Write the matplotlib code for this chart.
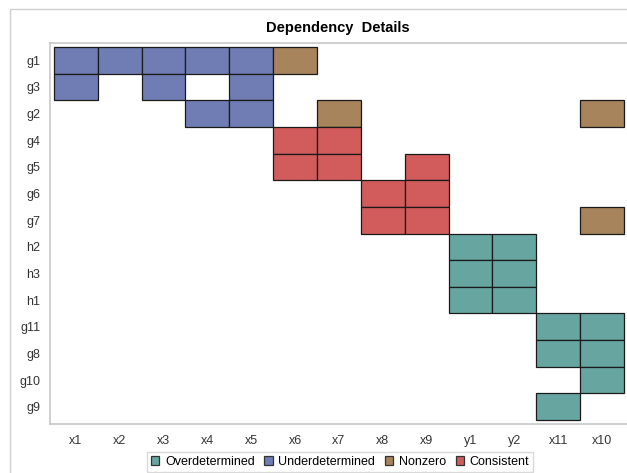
import matplotlib.pyplot as plt
from matplotlib.patches import Rectangle, Patch

plt.rcParams['font.family'] = ['Liberation Sans', 'DejaVu Sans']

rows = ['g1', 'g3', 'g2', 'g4', 'g5', 'g6', 'g7', 'h2', 'h3', 'h1', 'g11', 'g8', 'g10', 'g9']
cols = ['x1', 'x2', 'x3', 'x4', 'x5', 'x6', 'x7', 'x8', 'x9', 'y1', 'y2', 'x11', 'x10']

# (row, column) pairs per status
overdetermined = [('h2', 'y1'), ('h2', 'y2'), ('h3', 'y1'), ('h3', 'y2'), ('h1', 'y1'), ('h1', 'y2'),
                  ('g11', 'x11'), ('g11', 'x10'), ('g8', 'x11'), ('g8', 'x10'), ('g10', 'x10'), ('g9', 'x11')]
underdetermined = [('g1', 'x1'), ('g1', 'x2'), ('g1', 'x3'), ('g1', 'x4'), ('g1', 'x5'),
                   ('g3', 'x1'), ('g3', 'x3'), ('g3', 'x5'), ('g2', 'x4'), ('g2', 'x5')]
nonzero = [('g1', 'x6'), ('g2', 'x7'), ('g2', 'x10'), ('g7', 'x10')]
consistent = [('g4', 'x6'), ('g4', 'x7'), ('g5', 'x6'), ('g5', 'x7'), ('g5', 'x9'),
              ('g6', 'x8'), ('g6', 'x9'), ('g7', 'x8'), ('g7', 'x9')]

groups = [('Overdetermined', overdetermined, '#67a6a0'),
          ('Underdetermined', underdetermined, '#6f7db4'),
          ('Nonzero', nonzero, '#a7845b'),
          ('Consistent', consistent, '#d25b5b')]

fig = plt.figure(figsize=(6.27, 4.73), dpi=100)
ax = fig.add_axes([50/627, 49/473, 1 - 50/627, 381/473])

for name, cells, color in groups:
    ys = [rows.index(r) for r, c in cells]
    xs = [cols.index(c) - 0.5 for r, c in cells]
    ax.barh(ys, [1] * len(cells), left=xs, height=1, color=color,
            edgecolor='#1a1a1a', linewidth=0.9)

ax.set_xticks(range(len(cols)))
ax.set_xticklabels(cols)
ax.set_yticks(range(len(rows)))
ax.set_yticklabels(rows)
ax.set_xlim(-0.59, 12.57)
ax.set_ylim(13.65, -0.65)
ax.tick_params(length=0, labelsize=9, colors='#333333')
ax.tick_params(axis='x', pad=8)
ax.tick_params(axis='y', pad=7)
for s in ['left', 'bottom', 'top']:
    ax.spines[s].set_color('#c8c8c8')
    ax.spines[s].set_linewidth(1.2)
ax.spines['right'].set_visible(False)

fig.text(338/627, 1 - 28/473, 'Dependency  Details', ha='center', va='center',
         fontsize=10.5, fontweight='bold')

# outer frame
fig.patches.append(Rectangle((10/627, -0.02), 1.0, 1 - 9/473 + 0.02,
                             transform=fig.transFigure, fill=False,
                             edgecolor='#d0d0d0', linewidth=1))

handles = [Patch(facecolor=c, edgecolor='#333333', linewidth=0.9, label=n) for n, _, c in groups]
leg = fig.legend(handles=handles, loc='center', bbox_to_anchor=(340/627, 1 - 462/473),
                 ncol=4, fontsize=9, frameon=True, fancybox=False,
                 handlelength=0.7, handleheight=0.7, handletextpad=0.45,
                 columnspacing=0.75, borderpad=0.3)
leg.get_frame().set_edgecolor('#d0d0d0')
leg.get_frame().set_linewidth(1)

fig.savefig('out.png', dpi=100)
